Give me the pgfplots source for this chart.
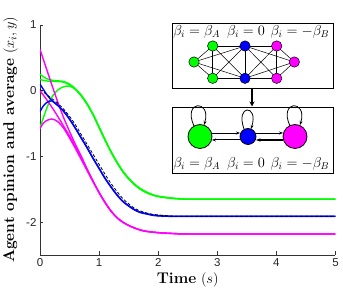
\documentclass[border=0pt]{standalone}
\usepackage{pgfplots}
\pgfplotsset{compat=1.18}
\usepackage{fontspec}
\newfontfamily\ticksfont{Liberation Sans}
\usetikzlibrary{arrows.meta}
\definecolor{mag}{rgb}{1,0,1}
\definecolor{grn}{rgb}{0,1,0}
\definecolor{blu}{rgb}{0,0,1}
\begin{document}
\begin{tikzpicture}
\path[use as bounding box] (-40pt,-33pt) rectangle (303pt,255pt);
\begin{axis}[
 at={(0,0)}, anchor=south west,
 scale only axis, width=295.5pt, height=230pt,
 xmin=0,xmax=5,ymin=-2.5,ymax=1,
 axis x line*=bottom, axis y line*=left,
 axis line style={draw=black!80, line width=0.8pt, -},
 tick style={draw=black!80, line width=0.6pt},
 tick align=inside, major tick length=3.5pt,
 xtick={0,1,2,3,4,5}, xticklabels={0,1,2,3,4,5},
 ytick={-2,-1,0,1}, yticklabels={-2,-1,0,1},
 ticklabel style={font=\ticksfont\fontsize{11.5}{12}\selectfont, text=black!85},
 xlabel={\textbf{Time} $(s)$}, ylabel={\textbf{Agent opinion and average} $(x_i,y)$},
 label style={font=\fontsize{15.5}{17}\selectfont},
 xlabel style={at={(axis description cs:0.5,-0.1087)}, anchor=center},
 ylabel style={at={(axis description cs:-0.100,0.5)}, anchor=center},
 every axis plot/.append style={line width=1.4pt},
]
% green
\addplot[grn, smooth] coordinates {(0,0.25)(0.1,0.19)(0.2,0.16)(0.3,0.15)(0.4,0.14)(0.5,0.10)(0.6,0.03)(0.7,-0.07)(0.8,-0.2)(0.9,-0.36)(1.0,-0.55)(1.1,-0.74)(1.2,-0.92)(1.3,-1.08)(1.4,-1.22)(1.5,-1.33)(1.6,-1.42)(1.7,-1.49)(1.8,-1.54)(1.9,-1.58)(2.0,-1.605)(2.2,-1.63)(2.4,-1.645)(2.7,-1.65)(5,-1.65)};
\addplot[grn, smooth] coordinates {(0,0.17)(0.1,0.15)(0.2,0.14)(0.3,0.14)(0.4,0.13)(0.5,0.09)(0.6,0.02)(0.7,-0.08)(0.8,-0.21)(0.9,-0.37)(1.0,-0.56)(1.1,-0.75)(1.2,-0.93)(1.3,-1.09)(1.4,-1.23)(1.5,-1.34)(1.6,-1.43)(1.7,-1.5)(1.8,-1.55)(1.9,-1.585)(2.0,-1.61)(2.2,-1.635)(2.4,-1.648)(2.7,-1.652)(5,-1.652)};
\addplot[grn, smooth] coordinates {(0,-0.56)(0.05,-0.43)(0.1,-0.3)(0.15,-0.19)(0.2,-0.1)(0.3,0.01)(0.4,0.06)(0.5,0.07)(0.6,0.02)(0.7,-0.08)(0.8,-0.21)(0.9,-0.37)(1.0,-0.56)(1.1,-0.75)(1.2,-0.93)(1.3,-1.09)(1.4,-1.23)(1.5,-1.34)(1.6,-1.43)(1.7,-1.5)(1.8,-1.55)(1.9,-1.585)(2.0,-1.61)(2.2,-1.635)(2.4,-1.648)(2.7,-1.652)(5,-1.652)};
% magenta
\addplot[mag, smooth] coordinates {(0,0.63)(0.1,0.36)(0.2,0.09)(0.3,-0.17)(0.4,-0.41)(0.5,-0.62)(0.6,-0.82)(0.7,-1.0)(0.8,-1.2)(0.9,-1.38)(1.0,-1.55)(1.1,-1.7)(1.2,-1.83)(1.3,-1.93)(1.4,-2.0)(1.5,-2.05)(1.6,-2.09)(1.7,-2.12)(1.8,-2.14)(2.0,-2.16)(2.3,-2.175)(2.6,-2.18)(5,-2.18)};
\addplot[mag, smooth] coordinates {(0,0.0)(0.1,-0.12)(0.2,-0.25)(0.3,-0.39)(0.4,-0.54)(0.5,-0.69)(0.6,-0.85)(0.7,-1.02)(0.8,-1.2)(0.9,-1.38)(1.0,-1.55)(1.1,-1.7)(1.2,-1.83)(1.3,-1.93)(1.4,-2.0)(1.5,-2.05)(1.6,-2.09)(1.7,-2.12)(1.8,-2.14)(2.0,-2.16)(2.3,-2.175)(2.6,-2.18)(5,-2.18)};
\addplot[mag, smooth] coordinates {(0,-0.58)(0.05,-0.5)(0.1,-0.46)(0.2,-0.43)(0.3,-0.47)(0.4,-0.57)(0.5,-0.72)(0.6,-0.88)(0.7,-1.05)(0.8,-1.22)(0.9,-1.39)(1.0,-1.55)(1.1,-1.7)(1.2,-1.83)(1.3,-1.93)(1.4,-2.0)(1.5,-2.05)(1.6,-2.09)(1.7,-2.12)(1.8,-2.14)(2.0,-2.16)(2.3,-2.175)(2.6,-2.18)(5,-2.18)};
% blue
\addplot[blu, smooth] coordinates {(0,0.1)(0.05,0.03)(0.1,-0.04)(0.15,-0.1)(0.2,-0.15)(0.3,-0.22)(0.4,-0.31)(0.5,-0.43)(0.6,-0.57)(0.7,-0.72)(0.8,-0.87)(0.9,-1.03)(1.0,-1.18)(1.1,-1.33)(1.2,-1.46)(1.3,-1.58)(1.4,-1.68)(1.5,-1.75)(1.6,-1.81)(1.7,-1.85)(1.8,-1.87)(1.9,-1.89)(2.0,-1.9)(2.2,-1.91)(2.5,-1.91)(5,-1.91)};
\addplot[blu, smooth] coordinates {(0,-0.32)(0.05,-0.24)(0.1,-0.19)(0.15,-0.16)(0.2,-0.155)(0.3,-0.225)(0.4,-0.315)(0.5,-0.435)(0.6,-0.575)(0.7,-0.725)(0.8,-0.875)(0.9,-1.035)(1.0,-1.185)(1.1,-1.335)(1.2,-1.465)(1.3,-1.585)(1.4,-1.685)(1.5,-1.755)(1.6,-1.815)(1.7,-1.855)(1.8,-1.875)(1.9,-1.895)(2.0,-1.905)(2.2,-1.912)(2.5,-1.912)(5,-1.912)};
% average
\addplot[black, densely dashed, line width=0.8pt, smooth] coordinates {(0,0.02)(0.1,-0.05)(0.2,-0.12)(0.3,-0.19)(0.4,-0.28)(0.5,-0.39)(0.6,-0.52)(0.7,-0.67)(0.8,-0.82)(0.9,-0.97)(1.0,-1.12)(1.1,-1.27)(1.2,-1.41)(1.3,-1.53)(1.4,-1.64)(1.5,-1.72)(1.6,-1.79)(1.7,-1.83)(1.8,-1.86)(1.9,-1.88)(2.0,-1.89)(2.2,-1.905)(2.5,-1.91)(5,-1.91)};
\end{axis}
\begin{scope}[shift={(-40pt,255pt)}, x=1pt, y=-1pt]
 \draw[fill=white, line width=0.9pt] (172,23) rectangle (333,88);
 \coordinate (g1) at (212.7,46); \coordinate (g2) at (194,62); \coordinate (g3) at (212.7,78.3);
 \coordinate (b1) at (245,46); \coordinate (b2) at (245,78.3);
 \coordinate (m1) at (276.7,46); \coordinate (m2) at (294.3,62); \coordinate (m3) at (276.7,78.3);
 \begin{scope}[line width=0.5pt]
 \foreach \a/\b in {g1/g2,g1/g3,g2/g3,g1/b1,g1/b2,g2/b1,g2/b2,g3/b1,g3/b2,b1/b2,b1/m1,b1/m3,b2/m1,b2/m3,b1/m2,b2/m2,m1/m2,m1/m3,m2/m3}
   \draw (\a) -- (\b);
 \end{scope}
 \foreach \c/\col in {g1/grn,g2/grn,g3/grn,m1/mag,m2/mag,m3/mag,b1/blu,b2/blu}
   \filldraw[fill=\col, draw=black, line width=0.5pt] (\c) circle[radius=5.2];
 \begin{scope}[font=\fontsize{14}{15}\selectfont]
 \node at (196.7,32) {$\beta_i=\beta_A$};
 \node at (246,32) {$\beta_i=0$};
 \node at (300,32) {$\beta_i=-\beta_B$};
 \end{scope}
 \draw[line width=1.1pt, -{Stealth[length=5pt,width=5pt]}] (252,89) -- (252,106.5);
 \draw[fill=white, line width=0.9pt] (172,107) rectangle (333,173);
 \draw[line width=0.8pt, -{Stealth[length=4pt]}] (194,126) .. controls (182,100) and (212,99) .. (204,125);
 \draw[line width=0.8pt, -{Stealth[length=4pt]}] (244,129) .. controls (235,104) and (259,104) .. (251,129);
 \draw[line width=0.8pt, -{Stealth[length=4pt]}] (290,126) .. controls (278,100) and (308,99) .. (300,125);
 \draw[line width=0.8pt, -{Stealth[length=4pt]}] (212,133) -- (240,133);
 \draw[line width=1.0pt, -{Stealth[length=4pt]}] (240,140) -- (212,140);
 \draw[line width=0.8pt, -{Stealth[length=4pt]}] (256,133) -- (283,133);
 \draw[line width=1.3pt, -{Stealth[length=4.5pt]}] (283,140) -- (256,140);
 \filldraw[fill=grn, draw=black, line width=0.8pt] (200,136.5) circle[radius=12];
 \filldraw[fill=blu, draw=black, line width=0.8pt] (248,136.5) circle[radius=8];
 \filldraw[fill=mag, draw=black, line width=0.8pt] (295,136.5) circle[radius=12];
 \begin{scope}[font=\fontsize{14}{15}\selectfont]
 \node at (196.7,164) {$\beta_i=\beta_A$};
 \node at (246,164) {$\beta_i=0$};
 \node at (300,164) {$\beta_i=-\beta_B$};
 \end{scope}
\end{scope}
\end{tikzpicture}
\end{document}
